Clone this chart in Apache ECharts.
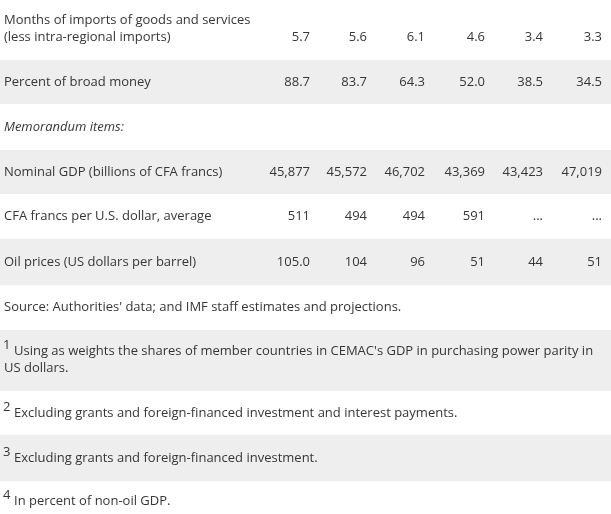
<!DOCTYPE html>
<html><head><meta charset="utf-8">
<script src="https://cdn.jsdelivr.net/npm/echarts@6/dist/echarts.min.js"></script>
<style>html,body{margin:0;padding:0;background:#fff}#c{width:611px;height:514px}</style>
</head><body><div id="c"></div><script>
// ---- table content ----
const rowLabels = [
  "Months of imports of goods and services\n(less intra-regional imports)",
  "Percent of broad money",
  "Memorandum items:",
  "Nominal GDP (billions of CFA francs)",
  "CFA francs per U.S. dollar, average",
  "Oil prices (US dollars per barrel)"
];
const importMonths = ["5.7", "5.6", "6.1", "4.6", "3.4", "3.3"];
const broadMoney   = ["88.7", "83.7", "64.3", "52.0", "38.5", "34.5"];
const memoValues   = [];
const nominalGDP   = ["45,877", "45,572", "46,702", "43,369", "43,423", "47,019"];
const cfaPerUSD    = ["511", "494", "494", "591", "...", "..."];
const oilPrices    = ["105.0", "104", "96", "51", "44", "51"];
const sourceNote = "Source: Authorities' data; and IMF staff estimates and projections.";
const footnoteMarks = ["1", "2", "3", "4"];
const footnoteTexts = [
  "Using as weights the shares of member countries in CEMAC's GDP in purchasing power parity in\nUS dollars.",
  "Excluding grants and foreign-financed investment and interest payments.",
  "Excluding grants and foreign-financed investment.",
  "In percent of non-oil GDP."
];
const rowValues = [importMonths, broadMoney, memoValues, nominalGDP, cfaPerUSD, oilPrices];

// ---- layout ----
const W = 611, H = 514;
const rowHeights = [60, 44, 46, 44, 45, 46, 45, 61, 44, 46, 33];
const shaded = [false, true, false, true, false, true, false, true, false, true, false];
const colRight = [310, 367, 425, 485, 543, 602];
const labelDy = [-1.5, 0, 0, 0, 0, 0];
const valueDy = [7, 0, 0, 0, 0, 0];
const footDy = [-9.5, 0, 0, 3.5];

const cum = [0];
rowHeights.forEach(h => cum.push(cum[cum.length - 1] + h));

const FONT = "Open Sans";
const COLOR = "#363636";
const FS = 13;

function txt(x, y, text, extra) {
  return {
    type: 'text',
    style: Object.assign({ x: x, y: y, text: text, fill: COLOR, font: FS + 'px "' + FONT + '"',
      fontSize: FS, fontFamily: FONT, verticalAlign: 'middle', align: 'left', lineHeight: 17 }, extra || {})
  };
}

function renderItem(params, api) {
  const i = api.value(0);
  const p0 = api.coord([0, cum[i]]);
  const p1 = api.coord([W, cum[i + 1]]);
  const mid = (p0[1] + p1[1]) / 2;
  const children = [];
  if (shaded[i]) {
    children.push({ type: 'rect', shape: { x: p0[0], y: p0[1], width: p1[0] - p0[0], height: p1[1] - p0[1] },
      style: { fill: '#eeeeee' } });
  }
  if (i < rowLabels.length) {
    const italic = i === 2;
    children.push(txt(4, mid + labelDy[i], rowLabels[i], italic ? { fontStyle: 'italic', font: 'italic ' + FS + 'px "' + FONT + '"' } : null));
    rowValues[i].forEach((v, k) => {
      const x = api.coord([colRight[k], 0])[0];
      children.push(txt(x, mid + valueDy[i], v, { align: 'right' }));
    });
  } else if (i === rowLabels.length) {
    children.push(txt(4, mid, sourceNote));
  } else {
    const f = i - rowLabels.length - 1;
    const lines = footnoteTexts[f].split('\n');
    const base = mid + footDy[f];
    children.push(txt(3, base - 6, footnoteMarks[f], { fontSize: 13, font: '13px "' + FONT + '"' }));
    children.push(txt(14, base, lines[0]));
    if (lines[1]) children.push(txt(4, base + 17, lines[1]));
  }
  return { type: 'group', children: children };
}

const chart = echarts.init(document.getElementById('c'), null, { renderer: 'canvas' });
chart.setOption({
  animation: false,
  backgroundColor: '#ffffff',
  grid: { left: 0, right: 0, top: 0, bottom: 0 },
  xAxis: { type: 'value', min: 0, max: W, show: false },
  yAxis: { type: 'value', min: 0, max: H, inverse: true, show: false },
  series: [{
    type: 'custom',
    renderItem: renderItem,
    data: rowHeights.map((h, i) => [i]),
    encode: { x: -1, y: -1 },
    silent: true
  }]
});
</script></body></html>
